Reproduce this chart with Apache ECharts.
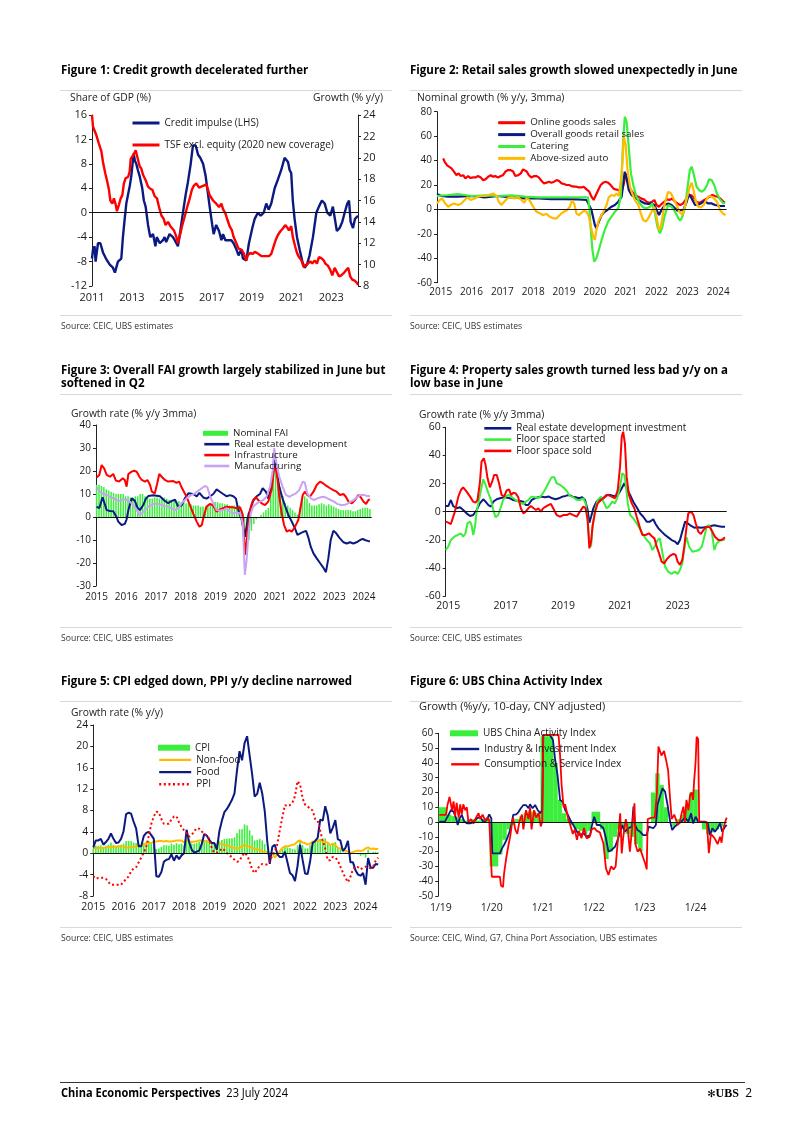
<!DOCTYPE html>
<html><head><meta charset="utf-8">
<script src="https://cdn.jsdelivr.net/npm/echarts@6/dist/echarts.min.js"></script>
<style>
html,body{margin:0;padding:0;background:#fff;}
#page{position:relative;width:802px;height:1134px;overflow:hidden;font-family:'Open Sans','Noto Sans',sans-serif;color:#111;}
#chart{position:absolute;left:0;top:0;width:802px;height:1134px;}
.t{position:absolute;white-space:nowrap;}
.title{font-weight:700;font-size:11.5px;line-height:13.5px;color:#000;}
.src{font-size:8.6px;line-height:11px;color:#333;}
.ax{font-size:10.3px;line-height:14px;color:#222;}
.rule{position:absolute;height:0;border-top:1px solid #d9d9d9;}
.foot{font-family:'Open Sans',sans-serif;font-size:12px;line-height:16px;color:#000;transform:scaleX(0.92);transform-origin:left center;}
.footr{font-family:'Open Sans',sans-serif;font-size:12px;line-height:16px;color:#000;}
</style></head><body>
<div id="page">
<div id="chart"></div>

<div class="t title" style="left:61px;top:63px;">Figure 1: Credit growth decelerated further</div>
<div class="t title" style="left:410px;top:63px;">Figure 2: Retail sales growth slowed unexpectedly in June</div>
<div class="t title" style="left:61px;top:362.5px;">Figure 3: Overall FAI growth largely stabilized in June but<br>softened in Q2</div>
<div class="t title" style="left:410px;top:362.5px;">Figure 4: Property sales growth turned less bad y/y on a<br>low base in June</div>
<div class="t title" style="left:61px;top:674px;">Figure 5: CPI edged down, PPI y/y decline narrowed</div>
<div class="t title" style="left:410px;top:674px;">Figure 6: UBS China Activity Index</div>

<div class="rule" style="left:60px;width:332px;top:90px;"></div>
<div class="rule" style="left:410px;width:332px;top:90px;"></div>
<div class="rule" style="left:60px;width:332px;top:315px;"></div>
<div class="rule" style="left:410px;width:332px;top:315px;"></div>
<div class="rule" style="left:60px;width:332px;top:394px;"></div>
<div class="rule" style="left:410px;width:332px;top:394px;"></div>
<div class="rule" style="left:60px;width:332px;top:627px;"></div>
<div class="rule" style="left:410px;width:332px;top:627px;"></div>
<div class="rule" style="left:60px;width:332px;top:701px;"></div>
<div class="rule" style="left:410px;width:332px;top:701px;"></div>
<div class="rule" style="left:60px;width:332px;top:927px;"></div>
<div class="rule" style="left:410px;width:332px;top:927px;"></div>

<div class="t ax" style="left:70px;top:90px;">Share of GDP (%)</div>
<div class="t ax" style="right:419px;top:90px;">Growth (% y/y)</div>
<div class="t ax" style="left:417px;top:90px;">Nominal growth (% y/y, 3mma)</div>
<div class="t ax" style="left:71px;top:406px;">Growth rate (% y/y 3mma)</div>
<div class="t ax" style="left:419px;top:407px;">Growth rate (% y/y 3mma)</div>
<div class="t ax" style="left:71px;top:705px;">Growth rate (% y/y)</div>
<div class="t ax" style="left:419px;top:699px;font-size:11px;">Growth (%y/y, 10-day, CNY adjusted)</div>

<div class="t src" style="left:61px;top:321px;">Source: CEIC, UBS estimates</div>
<div class="t src" style="left:410px;top:321px;">Source: CEIC, UBS estimates</div>
<div class="t src" style="left:61px;top:632.5px;">Source: CEIC, UBS estimates</div>
<div class="t src" style="left:410px;top:632.5px;">Source: CEIC, UBS estimates</div>
<div class="t src" style="left:61px;top:932.5px;">Source: CEIC, UBS estimates</div>
<div class="t src" style="left:410px;top:932.5px;">Source: CEIC, Wind, G7, China Port Association, UBS estimates</div>

<div class="rule" style="left:60px;width:685px;top:1082px;border-top:1px solid #333;"></div>
<div class="t foot" style="left:61px;top:1085px;"><b>China Economic Perspectives</b>&nbsp; 23 July 2024</div>
<div class="t footr" style="right:50px;top:1085px;"><span style="font-family:'DejaVu Sans';font-size:10px;">✻</span><span style="font-family:'Liberation Serif';font-weight:700;font-size:12px;">UBS</span>&nbsp; 2</div>
</div>

<script>
// ---------- Figure 1 (x = 2011 + offset) ----------
const F1_BASE = 2011;
const F1_TICKS = [2011, 2013, 2015, 2017, 2019, 2021, 2023];
const CREDIT_IMPULSE = [[0,-7.5],[0.05,-6],[0.13,-5.5],[0.18,-8],[0.22,-7],[0.30,-5],[0.35,-4.8],[0.42,-5],[0.55,-6.5],[0.7,-7.5],[0.89,-8.5],[1.05,-9],[1.15,-9.8],[1.22,-10],[1.30,-8],[1.40,-8.2],[1.47,-7.5],[1.55,-4],[1.64,-1],[1.72,1.5],[1.81,3],[1.90,4.5],[1.97,6],[2.09,9.7],[2.15,8.5],[2.22,8],[2.30,7],[2.39,6],[2.52,4],[2.60,2],[2.69,1],[2.81,-2],[2.92,-4],[3.06,-3.5],[3.18,-5.5],[3.25,-4],[3.31,-4.2],[3.40,-5],[3.48,-5],[3.56,-4.5],[3.64,-4],[3.72,-4.8],[3.81,-4.5],[3.89,-3.5],[4.06,-4],[4.15,-4.5],[4.23,-5],[4.31,-5.5],[4.43,-3],[4.56,0],[4.70,3],[4.81,5],[4.95,8],[5.06,11],[5.20,11],[5.32,9.5],[5.43,9],[5.57,8],[5.70,6],[5.82,3],[5.90,1],[6.03,-2],[6.10,-3.5],[6.23,-2],[6.37,-3],[6.49,-4.5],[6.57,-3.5],[6.69,-4.5],[6.82,-4.5],[6.99,-4.5],[7.10,-5],[7.24,-6],[7.35,-7],[7.49,-6],[7.57,-7.5],[7.74,-7.8],[7.87,-5],[8.04,-2.5],[8.16,-1],[8.32,0],[8.46,-0.5],[8.61,0],[8.74,1.5],[8.86,0.5],[8.99,1.5],[9.16,4],[9.33,5.5],[9.49,7],[9.66,9],[9.83,8.3],[9.91,7],[9.99,6.5],[10.07,2],[10.16,-1],[10.28,-4],[10.41,-6],[10.55,-8],[10.66,-9],[10.78,-8.5],[10.91,-7],[11.08,-4],[11.25,0],[11.38,1],[11.53,2],[11.67,1.5],[11.80,0],[11.95,-0.5],[12.08,1],[12.17,1],[12.28,-3],[12.42,-2.5],[12.55,-1.5],[12.67,0],[12.80,1.5],[12.89,2],[12.97,-1.5],[13.09,-2.5],[13.19,-1],[13.34,-0.5]];
const TSF_GROWTH = [[0,24],[0.05,22.9],[0.13,22.8],[0.22,22.1],[0.35,21.3],[0.47,20.6],[0.55,19.6],[0.67,18.5],[0.75,17.9],[0.85,17],[0.92,16],[1.02,15.7],[1.10,16.2],[1.19,15.6],[1.25,15],[1.35,15.6],[1.44,16.2],[1.52,16.5],[1.60,17.6],[1.69,18.1],[1.81,18.2],[1.89,18.7],[1.94,19.9],[2.02,19.8],[2.09,20.3],[2.19,20.7],[2.27,20.1],[2.39,19.2],[2.47,19],[2.56,18.4],[2.69,17.9],[2.81,17.3],[2.92,17.1],[3.03,17],[3.14,16.4],[3.26,16.2],[3.36,15.4],[3.48,14.6],[3.59,14.3],[3.69,13.7],[3.81,14],[3.93,13.6],[4.01,13.7],[4.11,13.2],[4.23,12.6],[4.31,12],[4.43,12.9],[4.53,13.7],[4.65,14.5],[4.76,15.3],[4.90,16.2],[5.01,17],[5.11,17.4],[5.23,17.6],[5.37,17.2],[5.48,17.3],[5.60,17.4],[5.73,17.5],[5.82,17],[5.90,16.5],[5.98,16.4],[6.07,16],[6.15,15.9],[6.23,15.7],[6.37,15.4],[6.49,15.7],[6.57,15.2],[6.69,14.8],[6.79,14.2],[6.90,13.6],[7.02,13.2],[7.10,12.6],[7.24,12],[7.35,11.5],[7.49,11.4],[7.60,11.1],[7.74,10.4],[7.82,10.9],[7.94,11.1],[8.07,11],[8.16,11.2],[8.27,11.1],[8.37,11],[8.49,10.8],[8.61,10.8],[8.74,10.8],[8.88,10.8],[8.99,11],[9.11,11.7],[9.21,12.3],[9.33,12.8],[9.44,13.1],[9.58,13.4],[9.69,13.7],[9.78,13.5],[9.88,13.2],[9.99,13.6],[10.07,12.6],[10.19,11.7],[10.28,11.1],[10.38,10.7],[10.50,10.4],[10.61,9.8],[10.71,9.9],[10.83,10.1],[10.95,10.3],[11.05,10.1],[11.17,10.4],[11.28,10.1],[11.38,10.7],[11.50,10.6],[11.62,10.4],[11.70,10.1],[11.83,9.9],[11.95,9.5],[12.05,9],[12.17,9.7],[12.28,9.3],[12.39,8.9],[12.50,9],[12.62,9.2],[12.75,9.5],[12.85,9.7],[12.95,8.9],[13.05,8.6],[13.17,8.5],[13.29,8.3],[13.34,8.1]];

// ---------- Figure 2 (x = 2015 + offset) ----------
const F2_BASE = 2015;
const F2_TICKS = [2015,2016,2017,2018,2019,2020,2021,2022,2023,2024];
const ONLINE_SALES = [[0.08,41.8],[0.13,39],[0.21,36],[0.27,37],[0.35,33.6],[0.43,31],[0.51,28],[0.58,29.5],[0.65,27.3],[0.73,28],[0.80,25.4],[0.89,27.3],[0.97,25.7],[1.05,26.2],[1.13,26.2],[1.21,27.3],[1.30,26.2],[1.37,24],[1.45,24.6],[1.54,26.8],[1.62,28],[1.70,26.8],[1.77,27.3],[1.86,26.2],[1.95,27.3],[2.02,28],[2.10,31],[2.19,32.2],[2.27,32.2],[2.35,31],[2.42,27.3],[2.51,28],[2.60,29.5],[2.67,32.8],[2.73,34.4],[2.79,31],[2.86,28],[2.94,26.2],[3.03,27.3],[3.11,27.3],[3.18,26.2],[3.27,23.5],[3.35,21.3],[3.43,21.9],[3.51,22.7],[3.59,21.9],[3.68,22.7],[3.76,24],[3.83,23.5],[3.92,21.3],[4.00,20.8],[4.08,20],[4.16,20],[4.24,19.1],[4.33,18.6],[4.40,18.6],[4.48,18],[4.57,18],[4.64,18.6],[4.73,16.4],[4.82,14.5],[4.89,10.4],[4.96,7.7],[5.02,11],[5.11,15.9],[5.19,20],[5.27,21.9],[5.35,22.7],[5.43,21.9],[5.51,20],[5.60,17.2],[5.67,16.4],[5.76,15.9],[5.81,14.5],[5.87,14.5],[5.93,20],[6.00,29.5],[6.06,22.7],[6.14,17.2],[6.21,14.5],[6.30,11.8],[6.41,10.4],[6.49,9],[6.59,8.2],[6.68,6.3],[6.76,5.5],[6.86,6.3],[6.93,7.7],[7.00,3.6],[7.08,2.2],[7.16,4.4],[7.25,6.3],[7.34,8.2],[7.42,7.7],[7.51,9],[7.60,6.3],[7.68,4.9],[7.77,3.6],[7.86,4.9],[7.94,7.7],[8.03,10.4],[8.12,11.8],[8.20,9.9],[8.29,6.3],[8.38,5.5],[8.46,6.3],[8.55,7.7],[8.64,9],[8.72,10.4],[8.81,11.8],[8.90,11],[8.98,10.4],[9.07,9],[9.17,6.3],[9.22,5.5]];
const OVERALL_RETAIL = [[-0.12,12.6],[0.02,11],[0.24,10.4],[0.56,10.4],[1.00,11],[1.43,9.9],[1.86,11],[2.29,9.9],[2.73,9],[3.16,9],[3.59,8.5],[4.03,8.5],[4.46,8.2],[4.73,7.7],[4.78,7.7],[4.89,-0.5],[5.00,-12.8],[5.05,-15.5],[5.13,-10],[5.22,-4.6],[5.32,-1.9],[5.43,0.1],[5.54,2.2],[5.65,3.6],[5.76,6.3],[5.87,10.4],[5.92,21.3],[5.97,30.9],[6.03,25.4],[6.10,15.9],[6.19,11.8],[6.30,9.9],[6.41,7.7],[6.52,6.3],[6.62,4.9],[6.73,4.4],[6.84,4.9],[6.93,3.6],[7.00,-0.5],[7.08,-4.6],[7.16,-0.5],[7.27,3.6],[7.38,4.9],[7.49,3.6],[7.60,0.9],[7.68,-1],[7.77,-0.5],[7.87,-0.5],[7.98,6.3],[8.05,12.6],[8.14,9],[8.25,3.6],[8.33,3.6],[8.44,4.9],[8.55,6.8],[8.68,4.9],[8.79,4.9],[8.90,3.6],[9.07,2.8],[9.22,2.8]];
const CATERING = [[-0.12,11],[0.24,11.8],[0.56,12.6],[1.00,11],[1.43,11.5],[1.86,11],[2.29,11.5],[2.73,10.4],[3.16,9.9],[3.59,9.9],[4.03,9.9],[4.46,9.9],[4.78,9.9],[4.82,1],[4.87,-16.9],[4.92,-33],[4.98,-42.8],[5.05,-40],[5.13,-33],[5.22,-25],[5.32,-16.9],[5.43,-10],[5.54,-6],[5.65,-1.9],[5.76,0.9],[5.84,10.4],[5.92,56.8],[5.97,75.9],[6.03,71.8],[6.08,56.8],[6.17,29.5],[6.26,18.6],[6.35,10.4],[6.46,4.9],[6.57,1.6],[6.68,0.9],[6.79,2.2],[6.86,4.9],[6.95,-3.2],[7.03,-14.2],[7.11,-19.6],[7.19,-14.2],[7.27,-4.6],[7.38,3.6],[7.49,2.2],[7.60,-1.9],[7.71,-7.3],[7.77,-9.2],[7.84,-6],[7.92,0.9],[8.01,18.6],[8.08,32.2],[8.14,35],[8.20,29.5],[8.30,18.6],[8.38,15.9],[8.46,14.5],[8.55,15.9],[8.64,20],[8.70,24.6],[8.79,24],[8.87,20],[8.96,13.1],[9.06,8.2],[9.17,4.9],[9.22,5.5]];
const AUTO_SALES = [[-0.12,4.9],[-0.03,7.7],[0.04,9],[0.13,5.5],[0.24,2.2],[0.32,3.6],[0.43,4.9],[0.56,3.6],[0.67,4.9],[0.78,7.7],[0.87,9.9],[0.97,7.7],[1.10,9],[1.21,10.4],[1.32,11],[1.43,11],[1.56,11.8],[1.70,13.1],[1.81,11],[1.88,6.3],[1.97,3.6],[2.06,6.3],[2.16,9],[2.27,9.9],[2.40,9],[2.51,9.9],[2.62,7.7],[2.71,5.5],[2.78,9],[2.86,8.2],[2.94,4.9],[3.03,0.9],[3.11,-1.9],[3.21,-3.2],[3.32,-4.6],[3.43,-3.7],[3.54,-6],[3.65,-7.3],[3.76,-7.3],[3.83,-5.4],[3.92,-3.2],[4.00,-1.9],[4.10,-0.5],[4.19,2.2],[4.26,7.1],[4.33,4.9],[4.40,-3.2],[4.48,-4.6],[4.57,-2.7],[4.65,-1],[4.73,-1.9],[4.81,-6],[4.87,-14.2],[4.95,-22.4],[5.00,-25],[5.05,-16.9],[5.13,-8.7],[5.22,-4.6],[5.30,-1],[5.38,3.6],[5.45,9.9],[5.54,11.8],[5.63,11],[5.70,13.1],[5.78,11],[5.87,29.5],[5.94,59.5],[6.00,52.7],[6.06,32.2],[6.14,18.6],[6.21,13.1],[6.30,7.7],[6.41,3.6],[6.49,-3.2],[6.57,-8.7],[6.65,-10],[6.73,-7.3],[6.84,-1.9],[6.93,2.2],[7.00,-6],[7.08,-16.9],[7.14,-14.2],[7.22,-1.9],[7.29,7.1],[7.38,14.5],[7.47,13.1],[7.55,9],[7.65,3.6],[7.74,-1.9],[7.84,-4.6],[7.92,2.2],[8.01,11.8],[8.08,18.6],[8.14,21.9],[8.20,15.9],[8.27,7.1],[8.35,2.2],[8.44,1.6],[8.53,3.6],[8.61,7.7],[8.70,11],[8.79,10.4],[8.87,9],[8.96,6.3],[9.06,-0.5],[9.17,-3.7],[9.24,-4.6]];

// ---------- Figure 3 (x = 2015 + offset) ----------
const F3_BASE = 2015;
const F3_TICKS = [2015,2016,2017,2018,2019,2020,2021,2022,2023,2024];
const FAI_FIRST = 0, FAI_LAST = 9.2; // offsets of first and last monthly bar
const NOMINAL_FAI = [14,14,13.5,13,12,11.5,11,10.5,10,10,10,10, 9,9,8.5,8.5,9,9,10,10,9,8.5,8,8, 8.5,8.5,8,8.5,8.5,8,7.5,7,7,7,7,6.5, 6.5,6,6,5.5,5,5,5,4.5,4.5,4.5,4.5,5, 6,6.5,6.5,6,6,5.5,5.5,5,5,5,5,5, 3,-10,-16,-10,-6,-3,-1,0,1,2,3,4, 10,20,25,20,13,9,6,5,4,3,2,1, 4,9,9,8,6,5,5,5,5.5,6,5.5,5, 5.5,5,4.5,4,3.5,3,3,3,3,3,2.5,2.5, 3,3.5,4,4,4,3.5];
const RE_DEV_F3 = [[0,4.5],[0.09,3.8],[0.20,8.6],[0.34,3],[0.45,2.6],[0.56,2.5],[0.67,0],[0.73,-2],[0.84,-3.5],[0.95,-3],[1.01,-1],[1.07,3],[1.18,8.1],[1.29,7],[1.37,4.2],[1.46,3],[1.57,5.2],[1.66,8],[1.74,9.1],[1.91,9.5],[2.13,9],[2.30,7],[2.41,6],[2.53,7],[2.64,7.5],[2.75,4.5],[2.86,5],[2.97,8.1],[3.09,10.3],[3.25,10],[3.37,9],[3.46,10.5],[3.59,8.5],[3.70,8],[3.82,9],[3.93,10],[4.04,12],[4.15,11],[4.26,10],[4.38,9],[4.49,9.5],[4.60,9],[4.69,8],[4.77,3],[4.88,-1],[4.99,-8.6],[5.05,-4],[5.11,1],[5.19,3.8],[5.27,7],[5.39,9],[5.50,10],[5.59,12.5],[5.70,11],[5.78,8],[5.86,12],[5.93,17.5],[5.97,24.8],[6.06,20],[6.15,13],[6.26,8],[6.34,5],[6.45,1],[6.57,-2],[6.68,-5],[6.76,-7.8],[6.87,-7],[6.96,-6.5],[7.05,-6],[7.13,-9],[7.21,-13],[7.30,-15.8],[7.41,-18],[7.52,-20],[7.63,-22],[7.72,-24],[7.80,-18],[7.88,-10],[7.97,-6],[8.06,-7],[8.17,-9],[8.31,-11],[8.42,-11.5],[8.53,-11],[8.64,-11.5],[8.75,-11],[8.87,-10],[8.96,-9.5],[9.03,-10],[9.15,-10.5],[9.20,-10.5]];
const INFRA = [[0,17.2],[0.09,18.3],[0.17,22.6],[0.25,21.2],[0.34,18.3],[0.45,17.5],[0.56,18.7],[0.65,15.8],[0.76,15.4],[0.88,16.8],[0.95,16.1],[1.01,13.2],[1.07,18.7],[1.18,19.7],[1.26,20.1],[1.35,19.7],[1.44,17.5],[1.52,16.1],[1.63,15.4],[1.71,16.1],[1.80,13.9],[1.86,11],[1.96,10.3],[2.04,14.6],[2.11,18.7],[2.19,17.5],[2.30,16.1],[2.41,15.4],[2.58,15.6],[2.69,14.9],[2.78,15.4],[2.86,12.9],[2.94,11],[3.03,8.8],[3.14,5.2],[3.25,1.6],[3.37,-2],[3.46,-4.2],[3.54,-3.5],[3.61,0.4],[3.70,4.5],[3.82,5.7],[3.93,4.8],[4.04,2.3],[4.15,3.3],[4.26,3.8],[4.38,4.5],[4.49,4.2],[4.60,4.2],[4.71,3.8],[4.83,4.2],[4.92,0.9],[4.99,-16.5],[5.05,-10],[5.12,-1.3],[5.19,4.5],[5.27,7.4],[5.36,8.6],[5.44,7.4],[5.56,5.9],[5.67,5.2],[5.78,6.7],[5.89,11.7],[5.97,20.4],[6.04,21.9],[6.08,17.5],[6.15,8.8],[6.23,1.6],[6.31,-3.5],[6.40,-6.4],[6.49,-5.7],[6.57,-6.4],[6.68,-4.2],[6.79,-1.3],[6.87,4.5],[6.94,9.6],[7.01,11],[7.09,9.6],[7.18,8.8],[7.30,11],[7.41,13.9],[7.52,15.4],[7.63,14.6],[7.74,13.5],[7.86,12.5],[7.97,11.7],[8.08,11],[8.19,9.6],[8.31,10],[8.39,8.8],[8.48,6.7],[8.59,5.9],[8.70,7.4],[8.81,9.6],[8.89,8.6],[8.98,6.7],[9.07,5.7],[9.15,7.4],[9.20,7.7]];
const MANUF = [[0,12.9],[0.11,11],[0.22,10],[0.34,9.6],[0.45,8.8],[0.56,8.1],[0.67,7.4],[0.79,7.1],[0.90,7.7],[1.01,7.4],[1.12,6.7],[1.23,5.2],[1.35,3],[1.44,0.9],[1.52,1.6],[1.63,3],[1.74,4.5],[1.85,5.2],[1.96,5.9],[2.08,5.7],[2.19,5.2],[2.30,4.8],[2.41,4.5],[2.53,3.8],[2.64,3],[2.75,3.8],[2.86,5.9],[2.97,7.4],[3.09,8.8],[3.20,9.6],[3.31,10.3],[3.42,11.4],[3.54,12.5],[3.65,13.5],[3.73,12.9],[3.82,8.8],[3.93,5.9],[4.04,3],[4.15,2.8],[4.26,3],[4.38,3.8],[4.49,2.3],[4.60,1.6],[4.71,1.9],[4.83,1.6],[4.92,-2.8],[4.99,-25.2],[5.05,-18.7],[5.11,-7.1],[5.19,1.6],[5.27,4.5],[5.39,5.9],[5.50,6.7],[5.61,7.4],[5.72,8.8],[5.84,13.2],[5.93,20.4],[5.98,29.9],[6.06,22.6],[6.15,17.5],[6.26,13.2],[6.37,9.6],[6.49,8.8],[6.60,9.6],[6.71,10.3],[6.82,11.7],[6.94,15.4],[7.01,14.9],[7.09,10.3],[7.21,8.1],[7.32,7.4],[7.43,8.1],[7.54,8.6],[7.65,8.8],[7.77,8.1],[7.88,7.4],[7.99,6.7],[8.10,5.7],[8.22,5.2],[8.33,5.2],[8.44,5.7],[8.55,6.7],[8.66,7.4],[8.78,8.8],[8.89,9.6],[9.00,9.6],[9.11,9.1],[9.20,9.1]];

// ---------- Figure 4 (x = 2015 + offset) ----------
const F4_BASE = 2015;
const F4_TICKS = [2015,2017,2019,2021,2023];
const RE_INV_F4 = [[-0.09,4],[0,4],[0.09,8.3],[0.17,4],[0.29,2.4],[0.41,3.1],[0.52,1.2],[0.64,-1.2],[0.76,-3.1],[0.87,-2.4],[0.99,1.2],[1.10,5.9],[1.22,8.8],[1.30,7.1],[1.40,4.7],[1.49,3.6],[1.57,7.1],[1.69,8.8],[1.80,9.5],[1.98,10.2],[2.15,9.5],[2.27,8.3],[2.38,7.8],[2.50,7.6],[2.62,7.1],[2.70,4.7],[2.79,4.7],[2.91,8.3],[3.02,9.5],[3.14,10.2],[3.26,10.7],[3.37,10.2],[3.51,10.7],[3.63,9.5],[3.74,8.8],[3.86,9.5],[3.98,10.7],[4.09,11.2],[4.21,11.9],[4.33,10.7],[4.44,10.2],[4.56,9.5],[4.67,10.2],[4.77,8.3],[4.86,1.2],[4.92,-7.8],[4.98,-3.6],[5.06,2.4],[5.17,7.1],[5.29,8.8],[5.41,9.5],[5.52,11.9],[5.64,11.9],[5.76,11.2],[5.87,11.2],[5.95,13],[6.05,16.6],[6.14,20.2],[6.22,16.6],[6.34,11.9],[6.45,7.1],[6.57,3.1],[6.69,-1.2],[6.80,-3.6],[6.92,-7.1],[7.03,-7.1],[7.15,-5.4],[7.23,-8.8],[7.33,-11.9],[7.44,-14.2],[7.56,-16.6],[7.67,-18.3],[7.79,-20.2],[7.91,-21.3],[8.00,-23.2],[8.08,-20.2],[8.16,-14.2],[8.26,-7.1],[8.35,-8.3],[8.47,-10.2],[8.58,-11.4],[8.70,-11.1],[8.81,-11.4],[8.93,-11.1],[9.05,-10.7],[9.16,-10.2],[9.28,-9.7],[9.40,-10.2],[9.53,-10.7],[9.65,-10.7]];
const FLOOR_STARTED = [[-0.09,-27.3],[0,-24.9],[0.09,-20.2],[0.21,-17.8],[0.33,-16.6],[0.44,-15.4],[0.52,-17.8],[0.60,-15.4],[0.67,-8.3],[0.76,-7.1],[0.81,-9.5],[0.87,-16.6],[0.93,-10.7],[0.99,0],[1.07,8.3],[1.16,17.3],[1.22,23],[1.30,19],[1.40,13],[1.49,8.3],[1.57,1.2],[1.65,-4],[1.74,-2.4],[1.84,3.6],[1.92,8.8],[2.00,10.7],[2.09,11.9],[2.19,10.7],[2.27,9.5],[2.35,8.3],[2.44,7.1],[2.53,5.9],[2.62,5.5],[2.70,7.1],[2.79,8.3],[2.91,10.7],[3.02,10.2],[3.14,9.5],[3.26,11.9],[3.37,15.4],[3.49,20.2],[3.60,24.4],[3.70,24.4],[3.78,20.2],[3.90,19],[4.01,17.3],[4.13,14.9],[4.24,11.2],[4.36,10.2],[4.48,8.3],[4.59,8.3],[4.71,9.5],[4.79,5.9],[4.86,-5.9],[4.92,-21.3],[4.98,-24.9],[5.03,-10.7],[5.12,1.2],[5.21,8.3],[5.33,10.7],[5.41,7.1],[5.52,2.4],[5.60,3.6],[5.72,7.1],[5.81,5.9],[5.91,10.7],[5.99,17.8],[6.07,27.3],[6.14,26.1],[6.20,17.8],[6.26,5.9],[6.34,-2.4],[6.45,-4.7],[6.57,-8.3],[6.69,-12.6],[6.80,-16.6],[6.92,-20.2],[7.03,-22.5],[7.12,-27.3],[7.21,-24.4],[7.30,-20.2],[7.38,-19],[7.47,-29.6],[7.56,-39.1],[7.67,-42.7],[7.79,-44.3],[7.91,-42.7],[8.00,-44.3],[8.08,-41.5],[8.16,-36.7],[8.26,-22.5],[8.31,-18.3],[8.40,-24.9],[8.51,-28.5],[8.63,-28],[8.74,-27.3],[8.84,-24.9],[8.93,-17.8],[9.01,-10.7],[9.09,-9.5],[9.19,-14.2],[9.28,-27.3],[9.36,-22.5],[9.48,-20.6],[9.59,-20.2],[9.65,-19.7]];
const FLOOR_SOLD = [[-0.09,-7.1],[0,-7.8],[0.09,-8.8],[0.15,-7.8],[0.23,0],[0.35,10.7],[0.44,15.4],[0.52,17.3],[0.64,14.2],[0.76,10.7],[0.87,7.1],[0.95,6.4],[1.02,8.3],[1.10,20.2],[1.16,35.6],[1.24,37.9],[1.30,33.2],[1.37,23.7],[1.45,17.3],[1.53,21.3],[1.60,26.1],[1.69,26.1],[1.77,20.2],[1.86,11.9],[1.95,10.7],[2.03,14.9],[2.12,15.9],[2.19,11.9],[2.27,13.5],[2.35,13],[2.44,10.2],[2.53,2.4],[2.62,-1.2],[2.70,0],[2.79,2.4],[2.88,4],[2.98,2.4],[3.06,1.2],[3.14,2.4],[3.23,0],[3.31,2.4],[3.40,3.6],[3.49,4.7],[3.58,5.5],[3.66,2.4],[3.78,-2.4],[3.90,-3.6],[4.01,-2.4],[4.13,-2.4],[4.24,-1.2],[4.36,-2.4],[4.48,-3.6],[4.59,0],[4.71,3.6],[4.79,2.4],[4.86,-5.9],[4.92,-26.1],[4.98,-21.3],[5.03,-10.7],[5.12,0],[5.21,5.9],[5.33,8.3],[5.44,10.2],[5.56,11.9],[5.70,10.7],[5.81,9.5],[5.91,15.4],[5.99,32],[6.05,53.4],[6.10,56.9],[6.16,48.6],[6.22,24.9],[6.30,11.9],[6.40,5.9],[6.49,2.4],[6.57,-3.6],[6.69,-11.9],[6.77,-16.6],[6.88,-16.6],[7.00,-15.4],[7.09,-17.3],[7.19,-19],[7.27,-24.9],[7.35,-29.6],[7.44,-35.6],[7.53,-36.8],[7.62,-33.9],[7.73,-31.5],[7.85,-30.1],[7.93,-30.8],[8.00,-35.6],[8.08,-37.9],[8.16,-34.4],[8.23,-24.9],[8.31,-10.7],[8.37,-1.2],[8.47,0],[8.55,-2.4],[8.63,-8.3],[8.72,-14.2],[8.81,-15.9],[8.90,-13],[9.01,-10.7],[9.13,-11.1],[9.21,-14.2],[9.30,-17.8],[9.42,-20.2],[9.53,-20.2],[9.65,-18.3]];

// ---------- Figure 5 (monthly from Jan 2015) ----------
const F5_START = 2015;
const F5_TICKS = [2015,2016,2017,2018,2019,2020,2021,2022,2023,2024];
const CPI = [0.8,1.4,1.4,1.5,1.2,1.4,1.6,2.0,1.6,1.3,1.5,1.6, 1.8,2.3,2.3,2.3,2.0,1.9,1.8,1.3,1.9,2.1,2.3,2.1, 2.5,0.8,0.9,1.2,1.5,1.5,1.4,1.8,1.6,1.9,1.7,1.8, 1.5,2.9,2.1,1.8,1.8,1.9,2.1,2.3,2.5,2.5,2.2,1.9, 1.7,1.5,2.3,2.5,2.7,2.7,2.8,2.8,3.0,3.8,4.5,4.5, 5.4,5.2,4.3,3.3,2.4,2.5,2.7,2.4,1.7,0.5,-0.5,0.2, -0.3,-0.2,0.4,0.9,1.3,1.1,1.0,0.8,0.7,1.5,2.3,1.5, 0.9,0.9,1.5,2.1,2.1,2.5,2.7,2.5,2.8,2.1,1.6,1.8, 2.1,1.0,0.7,0.1,0.2,0.0,-0.3,0.1,0.0,-0.2,-0.5,-0.3, -0.8,0.7,0.1,0.3,0.3,0.2];
const NON_FOOD = [1.0,1.0,1.0,1.0,1.0,1.1,1.1,1.1,1.2,1.2,1.3,1.3, 1.3,1.0,1.1,1.1,1.2,1.2,1.4,1.4,1.6,1.8,1.9,1.9, 2.2,2.2,2.3,2.3,2.2,2.3,2.2,2.2,2.3,2.4,2.4,2.4, 2.0,2.6,2.2,2.1,2.2,2.2,2.4,2.4,2.2,2.2,2.1,2.0, 1.8,1.6,1.8,1.7,1.6,1.4,1.3,1.1,1.0,0.9,1.0,1.3, 1.6,1.2,1.3,1.0,0.8,0.7,0.6,0.4,0.2,0.0,-0.1,0.0, -0.8,-0.2,0.4,1.0,1.3,1.3,1.4,1.6,1.7,2.2,2.4,2.0, 1.9,1.6,1.8,2.2,2.1,2.5,2.3,2.2,2.1,2.0,1.5,1.8, 1.5,1.0,0.9,0.7,0.5,0.3,0.0,0.2,0.4,0.5,0.4,0.5, 0.9,1.1,0.8,0.9,0.8,0.8];
const FOOD = [1.1,2.4,2.4,2.7,1.6,2.1,2.7,3.7,2.7,1.9,2.0,2.7, 4.1,7.3,7.6,7.4,5.9,4.6,1.3,1.3,3.2,3.8,4.0,3.4, 2.7,-4.3,-4.4,-3.5,-1.6,-1.2,-1.1,-0.2,-1.4,-0.4,-1.1,-0.4, 0.0,4.4,2.1,0.7,0.1,0.3,0.5,1.7,3.6,3.3,2.5,1.9, 1.9,0.7,4.1,6.1,7.7,8.3,9.1,10.0,11.2,15.5,19.1,17.4, 20.6,21.9,18.3,14.8,10.6,11.1,13.2,11.2,7.9,2.2,-2.0,1.2, 1.6,-0.2,-0.7,-0.7,0.3,-1.7,-3.7,-4.1,-5.2,-2.4,1.6,-1.2, -3.8,-3.9,-1.5,1.9,2.3,2.9,6.3,6.1,8.8,7.0,3.7,4.8, 6.2,2.6,2.4,0.4,1.0,2.3,-1.7,-1.7,-3.2,-4.0,-4.2,-3.7, -5.9,-0.9,-2.7,-2.7,-2.0,-2.1];
const PPI = [-4.3,-4.8,-4.6,-4.6,-4.6,-4.8,-5.4,-5.9,-5.9,-5.9,-5.9,-5.9, -5.3,-4.9,-4.3,-3.4,-2.8,-2.6,-1.7,-0.8,0.1,1.2,3.3,5.5, 6.9,7.8,7.6,6.4,5.5,5.5,5.5,6.3,6.9,6.9,5.8,4.9, 4.3,3.7,3.1,3.4,4.1,4.7,4.6,4.1,3.6,3.3,2.7,0.9, 0.1,0.1,0.4,0.9,0.6,0.0,-0.3,-0.8,-1.2,-1.6,-1.4,-0.5, 0.1,-0.4,-1.5,-3.1,-3.7,-3.0,-2.4,-2.0,-2.1,-2.1,-1.5,-0.4, 0.3,1.7,4.4,6.8,9.0,8.8,9.0,9.5,10.7,13.5,12.9,10.3, 9.1,8.8,8.3,8.0,6.4,6.1,4.2,2.3,0.9,-1.3,-1.3,-0.7, -0.8,-1.4,-2.5,-3.6,-4.6,-5.4,-4.4,-3.0,-2.5,-2.6,-3.0,-2.7, -2.5,-2.7,-2.8,-2.5,-1.4,-0.8];

// ---------- Figure 6 (x = 2019 + offset) ----------
const F6_BASE = 2019;
const F6_TICKS = [2019,2020,2021,2022,2023,2024];
const UBS_CAI_MONTHLY = [10,10,5,4,3,2,1,2,2,1,2,3, -30,-30,-22,-12,-5,-2,2,4,6,7,7,6, 58,58,58,40,15,6,2,-2,-5,-6,-8,-6, 7,7,-5,-25,-20,-10,-5,-5,-8,-10,-15,-20, 0,0,20,33,25,10,0,-3,2,5,12,20, 22,0,-5,-8,-7,-5,-3];
const IND_INV = [[-0.03,0.3],[0.08,0.3],[0.15,4.8],[0.20,8.2],[0.25,7],[0.30,2.5],[0.33,-2],[0.37,2.5],[0.41,4.8],[0.46,0.3],[0.51,-0.9],[0.58,-0.9],[0.64,0.3],[0.71,2.5],[0.77,3.6],[0.84,-0.2],[0.90,1.4],[0.95,5.2],[0.99,2.5],[1.01,-21.2],[1.10,-21.2],[1.16,-21.2],[1.20,-17.8],[1.24,-15.5],[1.29,-12.1],[1.35,-6.5],[1.39,-0.9],[1.42,4.8],[1.48,5.2],[1.52,6.6],[1.57,9.3],[1.62,11.5],[1.67,11.5],[1.72,9.3],[1.75,12],[1.80,9.3],[1.85,11.5],[1.90,8.2],[1.95,5.9],[1.99,8.2],[2.01,58.9],[2.14,58.9],[2.20,55.5],[2.24,43.1],[2.29,31.8],[2.34,14.9],[2.39,13.8],[2.44,8.2],[2.48,5.9],[2.54,1.4],[2.60,-2],[2.67,-6.5],[2.73,-8.8],[2.80,-7.6],[2.86,-9.9],[2.93,-8.8],[2.96,-3.1],[3.01,3.6],[3.06,-2],[3.12,-2],[3.19,-4.2],[3.24,-11],[3.29,-20],[3.35,-18.9],[3.42,-16.6],[3.47,-12.1],[3.52,-6.5],[3.56,-2],[3.61,-6.5],[3.68,-4.2],[3.75,-3.1],[3.78,10.4],[3.81,-2],[3.86,-5.4],[3.91,-6.5],[3.97,-8.8],[4.04,-8.8],[4.08,-3.1],[4.17,-4.2],[4.22,-2],[4.25,11.5],[4.30,17.2],[4.35,22.8],[4.40,20.6],[4.45,11.5],[4.50,0.3],[4.54,-5.4],[4.59,-3.1],[4.65,-1.5],[4.72,0.3],[4.79,3],[4.86,0.3],[4.91,5.9],[4.95,-0.9],[5.00,3.6],[5.05,0.3],[5.12,0.3],[5.18,0.3],[5.24,-0.9],[5.28,-8.8],[5.33,-4.2],[5.38,-6.5],[5.43,-4.2],[5.48,-0.9],[5.52,-6.5],[5.58,-3.1],[5.61,-2]];
const CONS_SERV = [[-0.03,4.8],[0.10,4.8],[0.13,11.5],[0.17,17],[0.22,8],[0.25,14],[0.28,4],[0.31,13],[0.35,3],[0.38,12],[0.41,5],[0.44,12],[0.48,8],[0.51,10],[0.54,0],[0.59,2],[0.64,-1],[0.69,3],[0.74,6],[0.77,2],[0.82,5],[0.87,1],[0.92,3],[0.95,1],[0.98,0],[1.00,-37],[1.16,-37],[1.18,-43],[1.22,-44],[1.24,-35],[1.28,-25],[1.33,-15],[1.36,-10],[1.40,0],[1.42,3],[1.46,-5],[1.50,-8],[1.54,0],[1.59,5],[1.62,-5],[1.67,8],[1.72,2],[1.75,10],[1.78,-5],[1.83,8],[1.87,3],[1.92,6],[1.96,-3],[1.99,0],[2.01,59],[2.31,59],[2.34,45],[2.37,25],[2.41,10],[2.44,12],[2.47,12],[2.50,2],[2.54,-2],[2.59,-8],[2.63,-5],[2.67,-12],[2.71,-6],[2.76,-11],[2.81,-4],[2.86,-11],[2.92,-10],[2.96,-5],[3.01,-4],[3.06,-6],[3.12,-7],[3.19,-14.4],[3.24,-31.3],[3.29,-35.8],[3.34,-30],[3.39,-32],[3.43,-30],[3.48,-10],[3.52,5.9],[3.55,-21.2],[3.58,-10],[3.63,2],[3.67,-5],[3.71,-20],[3.76,-2],[3.80,12.7],[3.82,-15],[3.86,-20],[3.91,-18],[3.95,-22],[4.01,-28],[4.04,-32],[4.06,2],[4.14,3],[4.20,3],[4.24,20],[4.27,51],[4.33,45],[4.38,48],[4.42,42],[4.46,35],[4.50,15],[4.53,2],[4.58,5],[4.65,-2],[4.69,0],[4.72,5],[4.76,10.4],[4.79,0],[4.82,15],[4.86,8],[4.89,18],[4.92,20],[4.95,15],[4.97,27.3],[5.00,40.8],[5.02,57.7],[5.05,56],[5.07,0],[5.12,0],[5.22,0],[5.26,-21],[5.30,-8],[5.35,-10],[5.39,-12],[5.43,-15],[5.48,-10],[5.51,-14],[5.54,-5],[5.58,0],[5.61,3]];

// ---------- build ----------
const FONT = "'Open Sans','Noto Sans',sans-serif";
const NAVY = '#0a1a80', RED = '#ff0000', GREEN = '#3cee3c', ORANGE = '#ffbb00', LAV = '#c8a2f4';

const shift = (base, pts) => pts.map(p => [base + p[0], p[1]]);
const monthly = (start, vals) => vals.map((v, i) => [start + i / 12, v]);
const spread = (base, first, last, vals) => vals.map((v, i) => [base + first + i * (last - first) / (vals.length - 1), v]);

const grids = [
  {left: 92, top: 115, width: 266, height: 171},
  {left: 437, top: 111.7, width: 289.5, height: 171},
  {left: 96, top: 425, width: 275.7, height: 161},
  {left: 445.7, top: 427.3, width: 281, height: 168.7},
  {left: 93.3, top: 725, width: 285, height: 171},
  {left: 438.3, top: 733.3, width: 288.4, height: 162.7}
];

function xA(gi, min, max, ticks, fs, margin, fmt) {
  return {type: 'value', gridIndex: gi, min: min, max: max,
    axisLine: {show: false}, axisTick: {show: false}, splitLine: {show: false},
    axisLabel: {customValues: ticks, formatter: fmt || (v => String(Math.round(v))),
      fontFamily: FONT, fontSize: fs, color: '#1a1a1a', margin: margin}};
}
function yA(gi, min, max, interval, fs, pos) {
  return {type: 'value', gridIndex: gi, min: min, max: max, interval: interval, position: pos || 'left',
    axisLine: {show: true, onZero: false, lineStyle: {color: '#222', width: 1}},
    axisTick: {show: true, length: 3, lineStyle: {color: '#222'}},
    splitLine: {show: false},
    axisLabel: {fontFamily: FONT, fontSize: fs, color: '#1a1a1a', margin: 5}};
}
const zeroLine = {silent: true, symbol: ['none', 'none'], label: {show: false}, animation: false,
  lineStyle: {color: '#111', width: 1, type: 'solid'}, data: [{yAxis: 0}]};

function line(name, data, color, xi, yi, w, extra) {
  const s = {type: 'line', name: name, xAxisIndex: xi, yAxisIndex: yi, data: data,
    symbol: 'none', showSymbol: false, lineStyle: {color: color, width: w}, itemStyle: {color: color},
    emphasis: {disabled: true}};
  return Object.assign(s, extra || {});
}
function bar(name, data, color, xi, yi, bw, extra) {
  const s = {type: 'bar', name: name, xAxisIndex: xi, yAxisIndex: yi, data: data,
    barWidth: bw, itemStyle: {color: color}, emphasis: {disabled: true}};
  return Object.assign(s, extra || {});
}
// line legends: hide the symbol dot, keep the line
function lineLegend(left, top, names, pitch, fs, iw, lw) {
  return {left: left, top: top, orient: 'vertical', padding: 0, selectedMode: false,
    itemWidth: iw || 27, itemHeight: 6, itemGap: pitch - 11,
    itemStyle: {opacity: 0},
    lineStyle: {width: lw || 2.8},
    textStyle: {fontFamily: FONT, fontSize: fs || 9.8, color: '#1a1a1a', lineHeight: 11},
    data: names};
}
function barLegend(left, top, name, iw, ih, fs) {
  return {left: left, top: top, orient: 'vertical', padding: 0, selectedMode: false,
    itemWidth: iw, itemHeight: ih, icon: 'rect',
    textStyle: {fontFamily: FONT, fontSize: fs || 10, color: '#1a1a1a', lineHeight: 11},
    data: [name]};
}

const option = {
  animation: false,
  backgroundColor: 'transparent',
  grid: grids,
  xAxis: [
    xA(0, 2011, 2024.34, F1_TICKS, 11, 6),
    xA(1, 2014.88, 2024.27, F2_TICKS, 10, 4),
    xA(2, 2014.98, 2024.26, F3_TICKS, 10, 6),
    xA(3, 2014.91, 2024.71, F4_TICKS, 10.5, 5),
    xA(4, 2015, 2024.42, F5_TICKS, 10.5, 6),
    xA(5, 2018.95, 2024.61, F6_TICKS, 10.5, 7, v => '1/' + String(Math.round(v)).slice(2))
  ],
  yAxis: [
    yA(0, -12, 16, 4, 11),
    yA(0, 8, 24, 2, 11, 'right'),
    yA(1, -60, 80, 20, 10),
    yA(2, -30, 40, 10, 10),
    yA(3, -60, 60, 20, 10.5),
    yA(4, -8, 24, 4, 10.5),
    yA(5, -50, 60, 10, 10)
  ],
  legend: [
    lineLegend(131, 117.5, ['Credit impulse (LHS)', 'TSF excl. equity (2020 new coverage)'], 22, 10, 27, 3),
    lineLegend(496.7, 117.2, ['Online goods sales', 'Overall goods retail sales', 'Catering', 'Above-sized auto'], 11.9, 9.8, 27, 3),
    barLegend(203, 427.8, 'Nominal FAI', 25, 5, 9.8),
    lineLegend(203, 438.7, ['Real estate development', 'Infrastructure', 'Manufacturing'], 10.9, 9.8, 25, 2.6),
    lineLegend(483, 422.8, ['Real estate development investment', 'Floor space started', 'Floor space sold'], 11.3, 10, 27, 2.6),
    barLegend(158, 742.2, 'CPI', 32, 6, 10),
    lineLegend(158, 754.4, ['Non-food', 'Food', 'PPI'], 12.2, 10, 32, 2.4),
    barLegend(450, 727.8, 'UBS China Activity Index', 28, 6, 10),
    lineLegend(450, 743.5, ['Industry & Investment Index', 'Consumption & Service Index'], 15.3, 10, 28, 2.4)
  ],
  series: [
    // Figure 1
    line('Credit impulse (LHS)', shift(F1_BASE, CREDIT_IMPULSE), NAVY, 0, 0, 2.4, {markLine: zeroLine}),
    line('TSF excl. equity (2020 new coverage)', shift(F1_BASE, TSF_GROWTH), RED, 0, 1, 2.4),
    // Figure 2
    line('Online goods sales', shift(F2_BASE, ONLINE_SALES), RED, 1, 2, 2.2, {markLine: zeroLine}),
    line('Overall goods retail sales', shift(F2_BASE, OVERALL_RETAIL), NAVY, 1, 2, 2.2),
    line('Catering', shift(F2_BASE, CATERING), GREEN, 1, 2, 2.2),
    line('Above-sized auto', shift(F2_BASE, AUTO_SALES), ORANGE, 1, 2, 2.2),
    // Figure 3
    bar('Nominal FAI', spread(F3_BASE, FAI_FIRST, FAI_LAST, NOMINAL_FAI), GREEN, 2, 3, 1.5, {markLine: zeroLine}),
    line('Real estate development', shift(F3_BASE, RE_DEV_F3), NAVY, 2, 3, 2),
    line('Infrastructure', shift(F3_BASE, INFRA), RED, 2, 3, 2),
    line('Manufacturing', shift(F3_BASE, MANUF), LAV, 2, 3, 2),
    // Figure 4
    line('Real estate development investment', shift(F4_BASE, RE_INV_F4), NAVY, 3, 4, 2, {markLine: zeroLine}),
    line('Floor space started', shift(F4_BASE, FLOOR_STARTED), GREEN, 3, 4, 2),
    line('Floor space sold', shift(F4_BASE, FLOOR_SOLD), RED, 3, 4, 2),
    // Figure 5
    bar('CPI', monthly(F5_START, CPI), GREEN, 4, 5, 1.6, {markLine: zeroLine}),
    line('Non-food', monthly(F5_START, NON_FOOD), ORANGE, 4, 5, 2),
    line('Food', monthly(F5_START, FOOD), NAVY, 4, 5, 2),
    line('PPI', monthly(F5_START, PPI), RED, 4, 5, 2, {lineStyle: {color: RED, width: 2, type: [2, 2.6]}}),
    // Figure 6
    bar('UBS China Activity Index', monthly(F6_BASE, UBS_CAI_MONTHLY), GREEN, 5, 6, 4.4, {markLine: zeroLine}),
    line('Industry & Investment Index', shift(F6_BASE, IND_INV), NAVY, 5, 6, 1.8),
    line('Consumption & Service Index', shift(F6_BASE, CONS_SERV), RED, 5, 6, 1.8)
  ]
};

const chart = echarts.init(document.getElementById('chart'), null, {renderer: 'canvas'});
chart.setOption(option);
</script>
</body></html>
